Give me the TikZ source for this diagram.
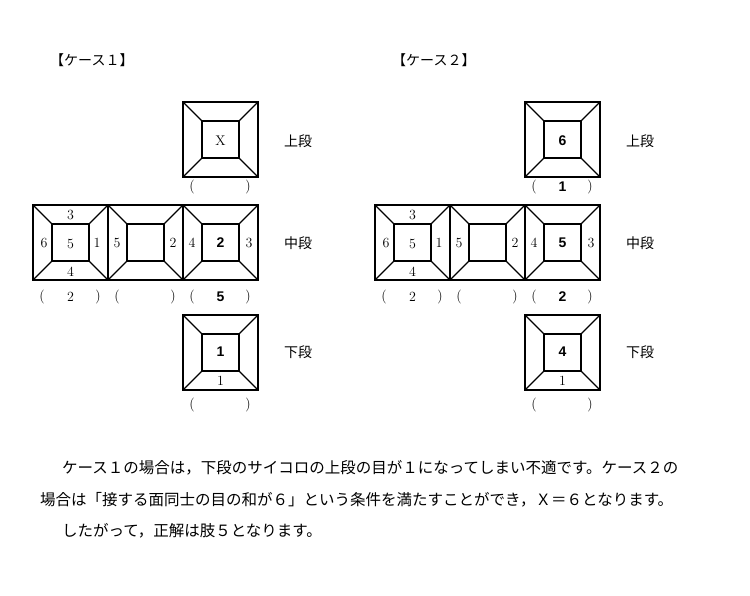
\documentclass[tikz,border=0pt]{standalone}
\usepackage{fontspec}
\newfontfamily\jp{Noto Sans CJK JP}
\newfontfamily\bsans{Liberation Sans}
\begin{document}
\begin{tikzpicture}[x=1pt,y=-1pt,
  die/.pic={\draw[line width=1.4pt] (0,0) rectangle (75,75);
    \draw[line width=1.1pt] (19,19) rectangle (56,56);
    \draw[line width=1.1pt] (0,0)--(19,19) (75,0)--(56,19) (0,75)--(19,56) (75,75)--(56,56);},
  num/.style={font=\fontsize{14}{14}\selectfont, inner sep=0pt},
  bnum/.style={font=\fontsize{14}{14}\selectfont\bsans\bfseries, inner sep=0pt},
  jt/.style={font=\fontsize{14}{15}\selectfont\jp, inner sep=0pt},
  tx/.style={font=\fontsize{15.5}{16}\selectfont\jp, inner sep=0pt},
  par/.style={font=\fontsize{14}{14}\selectfont, inner sep=0pt}]
\useasboundingbox (0,0) rectangle (750,595);
\foreach \ox/\ti/\tn/\topp/\mc/\mp/\bc in {0/１/X/{}/2/5/1, 342/２/6/1/5/2/4}{
  \begin{scope}[xshift=\ox]
  \node[jt,anchor=west] (t\ox) at (50,60) {【ケース\ti】};
  \pic at (183,102) {die};
  \pic at (33,205) {die};
  \pic at (108,205) {die};
  \pic at (183,205) {die};
  \pic at (183,315) {die};
  \ifnum\ox=0 \node[num] (x\ox) at (220.5,141) {X};
  \else \node[bnum] (x\ox) at (220.5,141) {6};\fi
  \node[jt] (u\ox) at (298,141) {上段};
  \node[jt] (m\ox) at (298,243) {中段};
  \node[jt] (d\ox) at (298,352) {下段};
  \node[par] at (192,187) {(}; \node[par] at (248,187) {)};
  \node[bnum] (tp\ox) at (220.5,187) {\topp};
  \node[num] at (70.5,215) {3}; \node[num] at (70.5,244) {5};
  \node[num] at (44,243) {6}; \node[num] at (97,243) {1};
  \node[num] at (70.5,272) {4};
  \node[num] at (117,243) {5}; \node[num] at (173,243) {2};
  \node[num] at (192,243) {4}; \node[num] at (249,243) {3};
  \node[bnum] (mc\ox) at (220.5,243) {\mc};
  \node[par] at (42,297) {(}; \node[num] at (70.5,297) {2}; \node[par] at (98,297) {)};
  \node[par] at (117,297) {(}; \node[par] at (173,297) {)};
  \node[par] at (192,297) {(}; \node[bnum] (mp\ox) at (220.5,297) {\mp}; \node[par] at (248,297) {)};
  \node[bnum] (bc\ox) at (220.5,352) {\bc};
  \node[num] at (220.5,381) {1};
  \node[par] at (192,405) {(}; \node[par] at (248,405) {)};
  \end{scope}}
\node[tx,anchor=west] (l1) at (62,468) {ケース１の場合は，下段のサイコロの上段の目が１になってしまい不適です。ケース２の};
\node[tx,anchor=west] (l2) at (40,500) {場合は「接する面同士の目の和が６」という条件を満たすことができ，Ｘ＝６となります。};
\node[tx,anchor=west] (l3) at (62,531) {したがって，正解は肢５となります。};
\end{tikzpicture}
\end{document}
